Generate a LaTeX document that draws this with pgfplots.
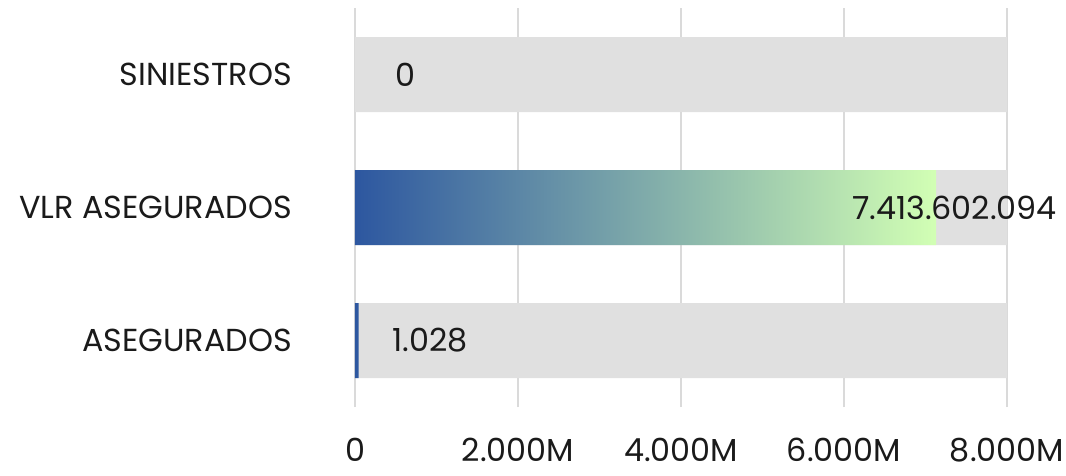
\documentclass[border=0pt]{standalone}
\usepackage{pgfplots}
\pgfplotsset{compat=1.18}
\usepackage{fontspec}
\setmainfont{Poppins}
\definecolor{gridc}{HTML}{DADADA}
\definecolor{bgbar}{HTML}{E0E0E0}
\definecolor{gA}{HTML}{2D57A0}
\definecolor{gB}{HTML}{D2FFB4}
\definecolor{txt}{HTML}{1A1A1A}
\newcommand{\lblfont}{\fontsize{31.8}{36}\selectfont}
\begin{document}
\begin{tikzpicture}[x=1pt,y=1pt]
\path[use as bounding box] (0,0) rectangle (1066,475);
\begin{axis}[
  at={(355pt,68pt)}, anchor=south west,
  width=652pt, height=399pt, scale only axis,
  xmin=0, xmax=8000, ymin=-0.5, ymax=2.5,
  axis line style={draw=none},
  xtick={0,2000,4000,6000,8000},
  xticklabels={0,2.000M,4.000M,6.000M,8.000M},
  ytick={0,1,2},
  yticklabels={ASEGURADOS,VLR ASEGURADOS,SINIESTROS},
  major tick length=0pt,
  xmajorgrids, ymajorgrids=false,
  grid style={gridc, line width=1.5pt},
  tick label style={font=\lblfont, text=txt, inner sep=0pt},
  xticklabel style={anchor=center, yshift=-43pt},
  yticklabel style={anchor=east, xshift=-63pt},
  clip=false,
]
\addplot[xbar, bar width=75pt, bar shift=0pt, fill=bgbar, draw=none]
  coordinates {(8000,0) (8000,1) (8000,2)};
\addplot[xbar, bar width=75pt, bar shift=0pt, draw=none, left color=gA, right color=gB]
  coordinates {(45,0) (7129,1)};
\node[anchor=west, font=\lblfont, text=txt, inner sep=0pt] at (axis cs:500,2) {0};
\node[anchor=west, font=\lblfont, text=txt, inner sep=0pt] at (axis cs:454,0) {1.028};
\node[anchor=east, font=\lblfont, text=txt, inner sep=0pt] at (axis cs:8614,1) {7.413.602.094};
\end{axis}
\end{tikzpicture}
\end{document}
